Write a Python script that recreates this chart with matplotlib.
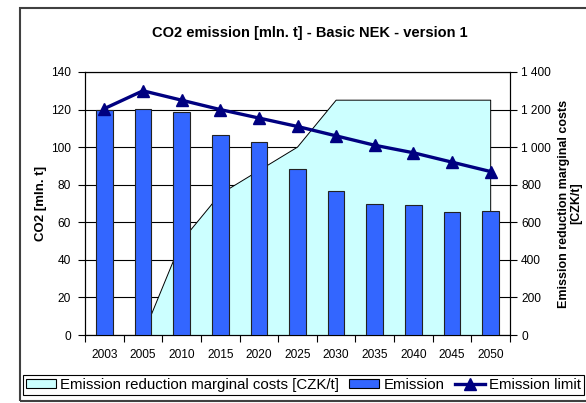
import numpy as np
import matplotlib.pyplot as plt
from matplotlib.patches import Patch, Rectangle
from matplotlib.lines import Line2D
from matplotlib.ticker import FuncFormatter

plt.rcParams['font.family'] = ['Liberation Sans', 'DejaVu Sans']

years = ['2003', '2005', '2010', '2015', '2020', '2025',
         '2030', '2035', '2040', '2045', '2050']
emission = [120, 120.5, 118.5, 106.5, 102.5, 88.5, 76.5, 69.5, 69, 65.5, 66]
emission_limit = [120.5, 130, 125, 120, 115.5, 111, 106, 101, 97, 92, 87]
marginal_costs = [np.nan, 0, 500, 750, 875, 1000, 1250, 1250, 1250, 1250, 1250]

W, H = 586, 403
fig = plt.figure(figsize=(W / 100, H / 100), dpi=100)
fig.patches.append(Rectangle((20 / W, 1 - 401 / H), 1.2, (401 - 8) / H,
                             transform=fig.transFigure, fill=False,
                             edgecolor='#404040', lw=1.5))

ax = fig.add_axes([85 / W, 1 - 335 / H, (510 - 85) / W, (335 - 72) / H])
ax2 = ax.twinx()
ax.set_zorder(ax2.get_zorder() + 1)
ax.patch.set_visible(False)

x = np.arange(len(years))
mc = np.array(marginal_costs, dtype=float)
ok = ~np.isnan(mc)

# area on secondary axis, drawn underneath bars
ax2.fill_between(x[ok], 0, mc[ok], facecolor='#CCFFFF', edgecolor='none', zorder=2)
ax2.plot(np.r_[x[ok], x[ok][-1]], np.r_[mc[ok], 0], color='black', lw=0.7, zorder=3)
ax2.set_ylim(0, 1400)
ax2.set_yticks(np.arange(0, 1401, 200))
ax2.yaxis.set_major_formatter(FuncFormatter(lambda v, p: f'{int(v):,}'.replace(',', ' ')))
ax2.grid(axis='y', color='black', lw=0.8, zorder=0)
ax2.set_axisbelow(True)
ax2.tick_params(axis='y', direction='out', length=5, width=0.8, pad=3, labelsize=8.6)
ax2.set_ylabel('Emission reduction marginal costs\n[CZK/t]', fontsize=9,
               fontweight='bold', labelpad=5, linespacing=1.0)

ax.bar(x, emission, width=0.43, color='#3366FF', edgecolor='#222222', lw=0.8, zorder=3)
ax.plot(x, emission_limit, color='#000080', lw=2.4, marker='^', markersize=9, zorder=4)

ax.set_xlim(-0.5, len(years) - 0.5)
ax.set_ylim(0, 140)
ax.set_yticks(np.arange(0, 141, 20))
ax.set_xticks(x)
ax.set_xticklabels(years)
ax.set_xticks(np.arange(-0.5, len(years)), minor=True)
ax.tick_params(axis='x', which='major', length=0, pad=10, labelsize=8.6)
ax.tick_params(axis='x', which='minor', direction='out', length=5, width=0.8)
ax.tick_params(axis='y', direction='out', length=5, width=0.8, pad=5, labelsize=8.6)
ax.set_ylabel('CO2 [mln. t]', fontsize=9.5, fontweight='bold', labelpad=3)

for a in (ax, ax2):
    for s in a.spines.values():
        s.set_color('black')
        s.set_linewidth(0.8)

fig.text(310 / W, 1 - 33 / H, 'CO2 emission [mln. t] - Basic NEK - version 1',
         ha='center', va='center', fontsize=10.5, fontweight='bold')

handles = [Patch(facecolor='#CCFFFF', edgecolor='black', lw=0.8),
           Patch(facecolor='#3366FF', edgecolor='black', lw=0.8),
           Line2D([], [], color='#000080', lw=2.4, marker='^', markersize=8)]
labels = ['Emission reduction marginal costs [CZK/t]', 'Emission', 'Emission limit']
leg = fig.legend(handles, labels, loc='upper left',
                 bbox_to_anchor=(23 / W, 1 - 375 / H), ncol=3, fontsize=10.8,
                 frameon=True, fancybox=False, edgecolor='black', framealpha=1,
                 borderpad=0.2, handlelength=2.0, handleheight=0.5,
                 handletextpad=0.3, columnspacing=0.65, borderaxespad=0)
leg.get_frame().set_linewidth(0.8)

fig.savefig('out.png', dpi=100)
